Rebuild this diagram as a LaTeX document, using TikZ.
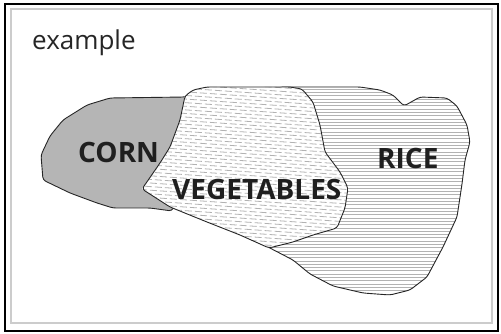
\documentclass[tikz,border=0pt]{standalone}
\usepackage{fontspec}
\setmainfont{Open Sans}
\begin{document}
\begin{tikzpicture}[x=1pt,y=-1pt,
  outline/.style={draw=black!85,line width=0.9pt,rounded corners=3pt},
  biglabel/.style={font=\fontsize{28}{30}\selectfont\bfseries,text=black!88,inner sep=0pt,anchor=base west},
  hatchline/.style={draw=black!30,line width=0.8pt}]
\useasboundingbox (0,0) rectangle (501,334);
\fill[white] (0,0) rectangle (501,334);
% frames
\draw[line width=2pt,black] (5,4) rectangle (498,331);
\draw[line width=1.3pt,black!20] (11,9) rectangle (492,323);
\node[font=\fontsize{26}{30}\selectfont,text=black!85,inner sep=0pt,anchor=base west] (title) at (32,50) {example};
% ---- RICE ----
\def\ricepath{(266,246) -- (293,260) -- (310,274) -- (333,286) -- (363,293) -- (390,295) -- (410,290) -- (427,277) -- (443,247) -- (457,217) -- (462,184) -- (465,160) -- (470,142) -- (467,125) -- (457,106) -- (447,98) -- (420,97) -- (404,106) -- (393,95) -- (380,90) -- (360,87) -- (280,87) -- (250,120) -- (250,230) -- cycle}
\fill[white] \ricepath;
\begin{scope}
\clip \ricepath;
\foreach \yy in {86,89.3,...,300} \draw[hatchline] (240,\yy) -- (475,\yy);
\end{scope}
\draw[outline] \ricepath;
% ---- CORN ----
\def\cornpath{(185,97) -- (110,98) -- (87,105) -- (63,120) -- (50,136) -- (41,155) -- (43,180) -- (70,193) -- (97,203) -- (113,208) -- (150,208) -- (172,211) -- (200,150) -- (192,95) -- cycle}
\draw[outline,fill=black!29] \cornpath;
% ---- VEGETABLES ----
\def\vegpath{(185,96) -- (193,90) -- (207,87) -- (290,87) -- (302,89) -- (313,102) -- (320,125) -- (325,152) -- (340,172) -- (348,188) -- (345,208) -- (337,228) -- (313,235) -- (293,242) -- (269,248) -- (240,235) -- (207,222) -- (170,207) -- (142,189) -- (160,163) -- (170,147) -- (180,120) -- cycle}
\fill[white] \vegpath;
\begin{scope}
\clip \vegpath;
\foreach \yy [count=\i] in {70,73.6,...,260} {
  \pgfmathsetmacro{\ph}{mod(\i,2)*5}
  \draw[hatchline,dash pattern=on 7pt off 3pt,dash phase=\ph pt] (130,\yy) -- (360,\yy+16);
}
\end{scope}
\draw[outline] \vegpath;
% labels
\node[biglabel] (corn) at (78,163) {CORN};
\node[biglabel] (veg) at (172,200) {VEGETABLES};
\node[biglabel] (rice) at (377,168) {RICE};
\end{tikzpicture}
\end{document}
